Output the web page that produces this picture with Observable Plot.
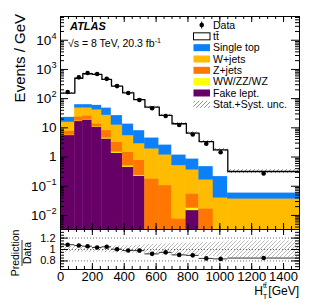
<!DOCTYPE html>
<html><head><meta charset="utf-8">
<script src="https://cdn.jsdelivr.net/npm/d3@7"></script>
<script src="https://cdn.jsdelivr.net/npm/@observablehq/plot@0.6"></script>
<style>
html,body{margin:0;padding:0;background:#fff;}
#chart{position:relative;width:316px;height:306px;overflow:hidden;font-family:"Liberation Sans",Arial,Helvetica,sans-serif;}
#chart svg{position:absolute;left:0;overflow:visible;}
</style></head><body><div id="chart"></div>
<script>
// ---- data ----
const binEdges = [0,90,140,200,260,320,390,460,530,620,700,790,870,960,1050,1500];
const ttbar     = [131.8,437,650,615,406,241,145,84,46.4,24,12.6,5.7,2.9,1.53,0.26];
const singleTop = [7.5,14.3,14,18,21.7,14.1,8.3,5.2,2.68,1.44,0.685,0.508,0.309,0.177,0.023];
const wJets     = [8.0,24.7,23,28,18.9,9.3,4.0,2.13,1.74,1.09,0.507,0.312,0.15,0.040,0.037];
const zJets     = [2.05,6.9,6.5,2.75,3.6,1.72,0.97,0.535,0.18,0.106,0.0077,0.037,0.017,0,0];
const diboson   = [0.15,0.5,0.6,0.45,0.3,0.12,0.05,0.015,0,0,0,0.003,0,0,0];
const fakeLept  = [5.5,16.6,18.9,10.6,4.2,1.36,0.45,0.22,0,0,0,0.0148,0,0,0];
const dataEvents = [168,535,754,699,476,269,156,90.3,47.1,25.3,12.5,5.9,2.85,1.46,0.272];
const relUnc    = [0.05,0.05,0.05,0.05,0.055,0.06,0.065,0.07,0.09,0.1,0.11,0.11,0.12,0.13,0.15];
const legendLabels = ["Data","tt\u0304","Single top","W+jets","Z+jets","WW/ZZ/WZ","Fake lept.","Stat.+Syst. unc."];
const xTickLabels = [0,200,400,600,800,1000,1200,1400];
const yDecades = [-2,-1,0,1,2,3,4];
const ratioTickLabels = [0.8,1,1.2];

// ---- layout ----
const W = 316, ML = 60, MR = 17;
const H1 = 229, MT1 = 16;
const H2 = 77, MB2 = 37;
const plotW = W - ML - MR, plotH1 = H1 - MT1, plotH2 = H2 - MB2;
const font = '"Liberation Sans",Arial,Helvetica,sans-serif';

const colors = {fake:"#660066", dib:"#ffff00", z:"#ff7700", w:"#ffbb00", st:"#0b80f8", tt:"#ffffff"};
const layers = [
  {vals: fakeLept, color: colors.fake},
  {vals: diboson, color: colors.dib},
  {vals: zJets, color: colors.z},
  {vals: wJets, color: colors.w},
  {vals: singleTop, color: colors.st},
  {vals: ttbar, color: colors.tt}
];
const nb = binEdges.length - 1;
const stackRows = [];
const bins = [];
for (let i = 0; i < nb; i++) {
  let c = 0;
  for (const L of layers) {
    const v = L.vals[i];
    if (v > 0) stackRows.push({x1: binEdges[i], x2: binEdges[i+1], y1: c > 0 ? c : 1e-6, y2: c + v, fill: L.color});
    c += v;
  }
  bins.push({x1: binEdges[i], x2: binEdges[i+1], xc: (binEdges[i]+binEdges[i+1])/2, total: c, data: dataEvents[i], ratio: dataEvents[i]/c, u: relUnc[i]});
}
const stepPts = bins.map(b => ({x: b.x1, y: b.total})).concat([{x: binEdges[nb], y: bins[nb-1].total}]);

const yMinor = [];
for (let e = -3; e <= 4; e++) for (let k = 2; k <= 9; k++) { const v = k * Math.pow(10, e); if (v > 3.3e-3 && v < 6.5e4) yMinor.push(v); }
const yMajor = yDecades.map(e => Math.pow(10, e));
const xMajor = d3.range(0, 1501, 200);
const xMinor = d3.range(0, 1501, 50);

function xTicks(h, major, minor) {
  return [
    Plot.tickX(xMajor, {x: d => d, insetTop: h - major, stroke: "black"}),
    Plot.tickX(xMinor, {x: d => d, insetTop: h - minor, stroke: "black"}),
    Plot.tickX(xMajor, {x: d => d, insetBottom: h - major, stroke: "black"}),
    Plot.tickX(xMinor, {x: d => d, insetBottom: h - minor, stroke: "black"})
  ];
}

const main = Plot.plot({
  width: W, height: H1, marginTop: MT1, marginLeft: ML, marginRight: MR, marginBottom: 0,
  style: {fontFamily: font, background: "white", overflow: "visible"},
  x: {domain: [0, 1500], axis: null, label: null},
  y: {type: "log", domain: [3.3e-3, 6.5e4], axis: null, label: null},
  color: {type: "identity"},
  marks: [
    Plot.rect(stackRows, {x1: "x1", x2: "x2", y1: "y1", y2: "y2", fill: "fill", stroke: "fill", strokeWidth: 0.4, clip: true}),
    Plot.rect(bins, {x1: "x1", x2: "x2", y1: d => d.total*(1-d.u), y2: d => d.total*(1+d.u), fill: "url(#hatchMain)", clip: true}),
    Plot.line(stepPts, {x: "x", y: "y", curve: "step-after", stroke: "black", strokeWidth: 1.3, clip: true}),
    Plot.dot(bins, {x: "xc", y: "data", r: 2.3, fill: "black", stroke: "none"}),
    Plot.tickY(yMajor, {y: d => d, insetRight: plotW - 8, stroke: "black"}),
    Plot.tickY(yMinor, {y: d => d, insetRight: plotW - 4, stroke: "black"}),
    Plot.tickY(yMajor, {y: d => d, insetLeft: plotW - 8, stroke: "black"}),
    Plot.tickY(yMinor, {y: d => d, insetLeft: plotW - 4, stroke: "black"}),
    ...xTicks(plotH1, 6, 3),
    Plot.frame({stroke: "black", strokeWidth: 1})
  ]
});

const ratio = Plot.plot({
  width: W, height: H2, marginTop: 0, marginLeft: ML, marginRight: MR, marginBottom: MB2,
  style: {fontFamily: font, background: "transparent", overflow: "visible"},
  x: {domain: [0, 1500], axis: null, label: null},
  y: {domain: [0.65, 1.35], axis: null, label: null},
  marks: [
    Plot.rect(bins, {x1: "x1", x2: "x2", y1: d => 1 - d.u, y2: d => 1 + d.u, fill: "url(#hatchRatio)"}),
    Plot.ruleY([0.8, 1, 1.2], {stroke: "#444", strokeDasharray: "1,2", strokeWidth: 0.8}),
    Plot.ruleY(bins, {x1: "x1", x2: "x2", y: "ratio", stroke: "#333", strokeWidth: 1}),
    Plot.dot(bins, {x: "xc", y: "ratio", r: 2.3, fill: "black", stroke: "none"}),
    Plot.axisX(xTickLabels, {anchor: "bottom", tickSize: 0, tickPadding: 2, fontSize: 13, label: null, tickFormat: d => String(d)}),
    Plot.axisY(ratioTickLabels, {anchor: "left", tickSize: 0, tickPadding: 5, fontSize: 11, label: null, tickFormat: d => String(d)}),
    Plot.tickY(ratioTickLabels, {y: d => d, insetRight: plotW - 8, stroke: "black"}),
    Plot.tickY(d3.range(0.7, 1.35, 0.05), {y: d => d, insetRight: plotW - 4, stroke: "black"}),
    Plot.tickY(ratioTickLabels, {y: d => d, insetLeft: plotW - 8, stroke: "black"}),
    Plot.tickY(d3.range(0.7, 1.35, 0.05), {y: d => d, insetLeft: plotW - 4, stroke: "black"}),
    ...xTicks(plotH2, 6, 3),
    Plot.frame({stroke: "black", strokeWidth: 1})
  ]
});

const chart = document.getElementById("chart");
main.style.top = "0px";
ratio.style.top = H1 + "px";
chart.appendChild(main);
chart.appendChild(ratio);

// hatch patterns
const ms = d3.select(main);
const defs = ms.insert("defs", ":first-child");
function hatch(id, color, w) {
  const p = defs.append("pattern").attr("id", id).attr("patternUnits", "userSpaceOnUse").attr("width", 4).attr("height", 4);
  p.append("path").attr("d", "M-1,1 L1,-1 M0,4 L4,0 M3,5 L5,3").attr("stroke", color).attr("stroke-width", w);
}
hatch("hatchMain", "#777", 0.8);
hatch("hatchRatio", "#999", 0.7);

// y tick labels with superscripts
const yS = main.scale("y");
const gl = ms.append("g").attr("font-family", font).attr("fill", "black").attr("text-anchor", "start");
const fs = 13.5;
yDecades.forEach(e => {
  const y = yS.apply(Math.pow(10, e)) + fs * 0.36;
  const t = gl.append("text").attr("x", 56.5).attr("y", y).attr("text-anchor", "end").attr("font-size", fs);
  if (e === 0) t.text("1");
  else if (e === 1) t.text("10");
  else {
    t.append("tspan").text("10");
    t.append("tspan").attr("dy", -fs * 0.42).attr("font-size", fs * 0.68).text(e < 0 ? "\u2212" + (-e) : String(e));
  }
});
// y title
gl.append("text").attr("transform", "translate(25,14) rotate(-90)").attr("text-anchor", "end").attr("font-size", 15).text("Events / GeV");
// ATLAS label
gl.append("text").attr("x", 70).attr("y", 30).attr("text-anchor", "start").attr("font-size", 11).attr("font-weight", "bold").attr("font-style", "italic").text("ATLAS");
const en = gl.append("text").attr("x", 68).attr("y", 46.5).attr("text-anchor", "start").attr("font-size", 10.5);
en.append("tspan").text("\u221As = 8 TeV, 20.3 fb");
en.append("tspan").attr("dy", -4).attr("font-size", 7).text("-1");

// legend
const lg = ms.append("g").attr("font-family", font).attr("text-anchor", "start");
const fillsLeg = [null, colors.tt, colors.st, colors.w, colors.z, colors.dib, colors.fake, "url(#hatchMain)"];
legendLabels.forEach((lab, i) => {
  const cy = 25 + i * 11.33;
  if (i === 0) {
    lg.append("line").attr("x1", 201.7).attr("x2", 201.7).attr("y1", cy - 3.5).attr("y2", cy + 3.5).attr("stroke", "black");
    lg.append("circle").attr("cx", 201.7).attr("cy", cy).attr("r", 2.3).attr("fill", "black");
  } else {
    lg.append("rect").attr("x", 193.5).attr("y", cy - 3.5).attr("width", 16.5).attr("height", 7)
      .attr("fill", fillsLeg[i]).attr("stroke", i === 1 ? "black" : "none").attr("stroke-width", 1);
  }
  lg.append("text").attr("x", 213).attr("y", cy + 3.7).attr("text-anchor", "start").attr("font-size", 10.5).text(lab);
});

// ratio labels
const rs = d3.select(ratio);
const rg = rs.append("g").attr("font-family", font).attr("fill", "black");
const xt = rg.append("text").attr("x", 299).attr("y", 66).attr("text-anchor", "end").attr("font-size", 12);
xt.append("tspan").text("H");
xt.append("tspan").attr("dy", 3.5).attr("font-size", 7.5).text("T");
xt.append("tspan").attr("dx", -4.5).attr("dy", -11).attr("font-size", 7).text("tt\u0304");
xt.append("tspan").attr("dx", 1.5).attr("dy", 7.5).text("[GeV]");
const fr = rg.append("g").attr("transform", "translate(0,24) rotate(-90)");
fr.append("text").attr("x", 0).attr("y", 19).attr("text-anchor", "middle").attr("font-size", 10.5).text("Prediction");
fr.append("line").attr("x1", -13).attr("x2", 13).attr("y1", 22).attr("y2", 22).attr("stroke", "black").attr("stroke-width", 0.8);
fr.append("text").attr("x", 0).attr("y", 31).attr("text-anchor", "middle").attr("font-size", 10.5).text("Data");
</script>
</body></html>
